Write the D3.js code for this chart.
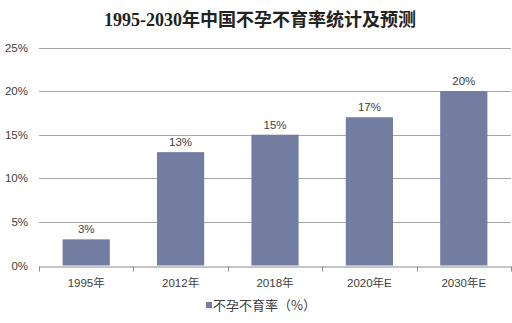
<!DOCTYPE html>
<html><head><meta charset="utf-8">
<script src="https://cdn.jsdelivr.net/npm/d3@7"></script>
<style>
body{margin:0;background:#fff;}
</style></head>
<body><svg id="c" width="512" height="323"></svg>
<script>
const categories = ["1995年","2012年","2018年","2020年E","2030年E"];
const values = [3,13,15,17,20];
const yTicks = [0,5,10,15,20,25];
const titleText = "1995-2030年中国不孕不育率统计及预测";
const legendText = "不孕不育率（%）";

const sans = '"Liberation Sans",Arial,"Noto Sans CJK SC",sans-serif';
const svg = d3.select("#c");
svg.append("rect").attr("width",512).attr("height",323).attr("fill","#fff");
const m = {left:39, right:511, top:47.5, bottom:265.5};

const x = d3.scaleBand().domain(categories).range([m.left,m.right]).paddingInner(0.5).paddingOuter(0.25);
const y = d3.scaleLinear().domain([0,25]).range([m.bottom,m.top]);

// gridlines
svg.append("g").selectAll("line").data(yTicks.filter(d=>d>0)).join("line")
  .attr("x1",m.left).attr("x2",m.right)
  .attr("y1",d=>Math.round(y(d))+0.5).attr("y2",d=>Math.round(y(d))+0.5)
  .attr("stroke","#a6a6a6").attr("stroke-width",1);

// y labels
svg.append("g").selectAll("text").data(yTicks).join("text")
  .attr("x",28).attr("y",d=>y(d)+4).attr("text-anchor","end")
  .style("font-family",sans).attr("font-size",11.5).attr("fill","#404040").text(d=>d+"%");

// bars
svg.append("g").selectAll("rect").data(values).join("rect")
  .attr("x",(d,i)=>x(categories[i])).attr("width",x.bandwidth())
  .attr("y",d=>y(d)).attr("height",d=>y(0)-y(d))
  .attr("fill","#737ca1");

// value labels
svg.append("g").selectAll("text").data(values).join("text")
  .attr("x",(d,i)=>x(categories[i])+x.bandwidth()/2).attr("y",d=>y(d)-6)
  .attr("text-anchor","middle").style("font-family",sans).attr("font-size",11.5).attr("fill","#404040").text(d=>d+"%");

// x axis
const xa = svg.append("g").attr("transform",`translate(0,${Math.round(y(0))+0.5})`)
  .call(d3.axisBottom(x).tickSize(0).tickPadding(12));
xa.select(".domain").attr("stroke","#8c8c8c");
xa.selectAll("text").attr("font-size",11.5).attr("fill","#404040").style("font-family",sans);
const bounds = d3.range(categories.length+1).map(i=>m.left + i*(m.right-m.left)/categories.length);
xa.append("g").selectAll("line").data(bounds).join("line")
  .attr("x1",d=>Math.round(d)+0.5).attr("x2",d=>Math.round(d)+0.5).attr("y1",0).attr("y2",5)
  .attr("stroke","#8c8c8c");

// title
svg.append("text").attr("x",260).attr("y",26).attr("text-anchor","middle")
  .attr("font-size",18).attr("font-weight","bold").attr("fill","#222")
  .style("font-family",'"Liberation Serif","DejaVu Serif","Noto Sans CJK SC",serif')
  .text(titleText);

// legend
svg.append("rect").attr("x",206).attr("y",302).attr("width",6).attr("height",6).attr("fill","#737ca1");
svg.append("text").attr("x",213).attr("y",310).attr("font-size",13).attr("fill","#404040")
  .style("font-family",'"Noto Sans CJK SC",sans-serif').text(legendText);
</script></body></html>
